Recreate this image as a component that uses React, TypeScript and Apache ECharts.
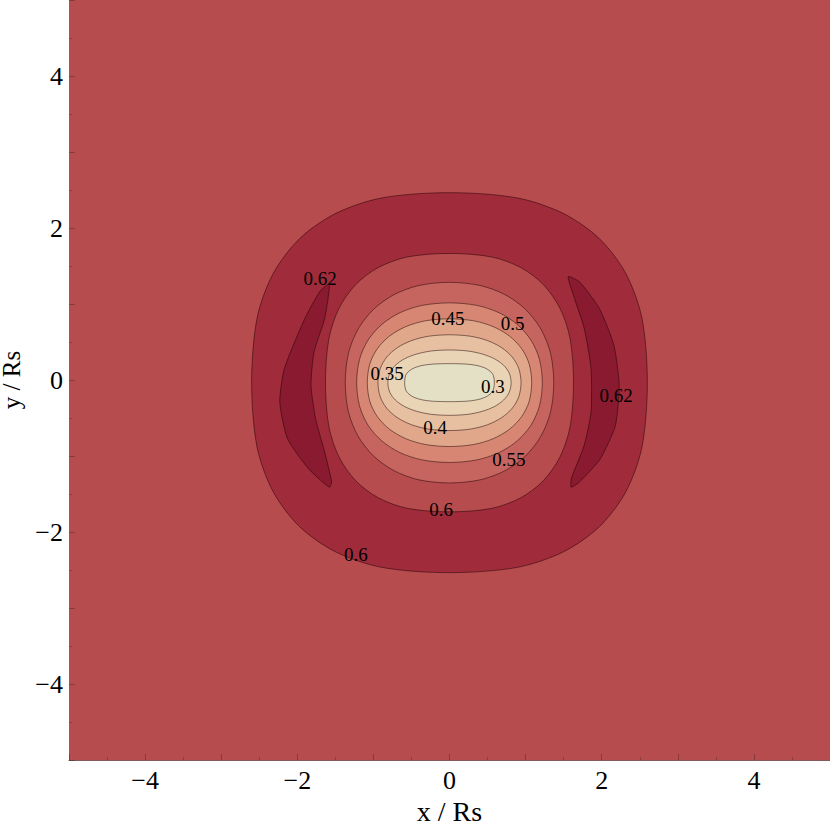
import React, { useEffect, useRef } from "react";
import * as echarts from "echarts";

// ---- axis ticks ----
const X_TICKS = [-4, -2, 0, 2, 4];
const Y_TICKS = [-4, -2, 0, 2, 4];
const X_NAME = "x / Rs";
const Y_NAME = "y / Rs";

// ---- contour outlines: upper-right quadrant, from (a,0) round to (0,b), in Rs units ----
const CENTER_Y = -0.035;
const Q_060_OUTER = [[2.6, 0], [2.529, 0.848], [2.317, 1.436], [1.97, 1.895], [1.493, 2.228], [0.882, 2.432], [0, 2.5]];
const Q_060_INNER = [[1.63, 0], [1.585, 0.577], [1.453, 0.976], [1.235, 1.288], [0.936, 1.515], [0.553, 1.654], [0, 1.7]];
const Q_055 = [[1.37, 0], [1.328, 0.386], [1.202, 0.703], [1.0, 0.963], [0.73, 1.158], [0.401, 1.279], [0, 1.32]];
const Q_050 = [[1.22, 0], [1.182, 0.307], [1.071, 0.559], [0.89, 0.766], [0.65, 0.921], [0.357, 1.017], [0, 1.05]];
const Q_045 = [[1.08, 0], [1.047, 0.246], [0.948, 0.447], [0.788, 0.613], [0.575, 0.737], [0.316, 0.814], [0, 0.84]];
const Q_040 = [[0.94, 0], [0.911, 0.184], [0.825, 0.336], [0.686, 0.46], [0.501, 0.553], [0.275, 0.611], [0, 0.63]];
const Q_035 = [[0.81, 0], [0.785, 0.126], [0.711, 0.229], [0.591, 0.314], [0.431, 0.377], [0.237, 0.417], [0, 0.43]];
const Q_030 = [[0.59, 0], [0.576, 0.095], [0.532, 0.152], [0.461, 0.195], [0.36, 0.226], [0.225, 0.244], [0, 0.25]];

// 0.62 crescents (closed outlines)
const CRESCENT_RIGHT = [
  [1.56, 1.36], [1.71, 1.29], [1.97, 0.94], [2.16, 0.46], [2.23, -0.07], [2.18, -0.6], [1.98, -1.04], [1.71, -1.34],
  [1.6, -1.41], [1.6, -1.3], [1.77, -0.86], [1.86, -0.42], [1.86, 0.15], [1.77, 0.68], [1.63, 1.11],
];
const CRESCENT_LEFT = [
  [-1.58, 1.26], [-1.7, 1.17], [-1.9, 0.81], [-2.17, 0.15], [-2.23, -0.29], [-2.13, -0.77], [-1.85, -1.17],
  [-1.58, -1.41], [-1.55, -1.34], [-1.64, -0.95], [-1.76, -0.51], [-1.82, -0.07], [-1.78, 0.37], [-1.64, 0.81],
];

// ---- contour labels ----
const LABEL_TEXT = ["0.62", "0.62", "0.45", "0.5", "0.35", "0.3", "0.4", "0.55", "0.6", "0.6"];
const LABEL_X = [-1.7, 2.19, -0.02, 0.83, -0.82, 0.57, -0.19, 0.78, -0.11, -1.23];
const LABEL_Y = [1.33, -0.21, 0.81, 0.74, 0.09, -0.08, -0.63, -1.05, -1.71, -2.3];

// ---- colours ----
const BG = "#b74c4f";
const C_BAND_060_062 = "#a02b3b";
const C_ABOVE_062 = "#8a1a2f";
const C_050_055 = "#c6655f";
const C_045_050 = "#d68672";
const C_040_045 = "#e1a78b";
const C_035_040 = "#e7c0a2";
const C_030_035 = "#e9d4b6";
const C_BELOW_030 = "#e4e0c5";

function fullLoop(q: number[][]): number[][] {
  const pts: number[][] = [];
  q.forEach(([x, y]) => pts.push([x, y + CENTER_Y]));
  q.slice().reverse().slice(1).forEach(([x, y]) => pts.push([-x, y + CENTER_Y]));
  q.slice(1).forEach(([x, y]) => pts.push([-x, -y + CENTER_Y]));
  q.slice().reverse().slice(1, -1).forEach(([x, y]) => pts.push([x, -y + CENTER_Y]));
  return pts;
}

const SHAPES = [
  { pts: fullLoop(Q_060_OUTER), fill: C_BAND_060_062, smooth: 0.3 },
  { pts: CRESCENT_RIGHT, fill: C_ABOVE_062, smooth: 0.2 },
  { pts: CRESCENT_LEFT, fill: C_ABOVE_062, smooth: 0.2 },
  { pts: fullLoop(Q_060_INNER), fill: BG, smooth: 0.3 },
  { pts: fullLoop(Q_055), fill: C_050_055, smooth: 0.3 },
  { pts: fullLoop(Q_050), fill: C_045_050, smooth: 0.3 },
  { pts: fullLoop(Q_045), fill: C_040_045, smooth: 0.3 },
  { pts: fullLoop(Q_040), fill: C_035_040, smooth: 0.3 },
  { pts: fullLoop(Q_035), fill: C_030_035, smooth: 0.3 },
  { pts: fullLoop(Q_030), fill: C_BELOW_030, smooth: 0.3 },
];

const SERIF = "'Liberation Serif', 'DejaVu Serif', serif";
const fmt = (v: number) => (v < 0 ? "\u2212" + Math.abs(v) : String(v));

export default function App() {
  const ref = useRef<HTMLDivElement>(null);
  useEffect(() => {
    if (!ref.current) return;
    const chart = echarts.init(ref.current, null, { renderer: "svg" });
    const axisCommon = (
      ticks: number[],
      name: string,
      margin: number,
      nameGap: number,
      nameSize: number,
      showLine: boolean
    ) => ({
      type: "value",
      min: -5,
      max: 5,
      interval: 1,
      name,
      nameLocation: "middle",
      nameGap,
      nameTextStyle: { fontFamily: SERIF, fontSize: nameSize, color: "#000" },
      axisLine: { show: showLine, onZero: false, lineStyle: { color: "rgba(80,20,20,0.7)", width: 1 } },
      axisTick: { show: true, inside: true, length: 6, lineStyle: { color: "rgba(0,0,0,0.25)" } },
      minorTick: { show: true, splitNumber: 2, length: 3, lineStyle: { color: "rgba(0,0,0,0.2)" } },
      splitLine: { show: false },
      axisLabel: {
        fontFamily: SERIF,
        fontSize: 26,
        color: "#000",
        margin,
        formatter: (v: number) => (ticks.includes(v) ? fmt(v) : ""),
      },
    });
    chart.setOption({
      animation: false,
      backgroundColor: "#fff",
      grid: {
        left: 69,
        right: 0,
        top: 0,
        bottom: 66,
        show: true,
        backgroundColor: BG,
        borderWidth: 0,
        outerBoundsMode: "none",
        containLabel: false,
      },
      xAxis: axisCommon(X_TICKS, X_NAME, 7, 36, 28, true),
      yAxis: axisCommon(Y_TICKS, Y_NAME, 6, 33, 25, false),
      series: [
        {
          type: "custom",
          clip: true,
          silent: true,
          data: SHAPES.map((_, i) => [i, 0]),
          renderItem: (params: any, api: any) => {
            const s = SHAPES[params.dataIndex];
            return {
              type: "polygon",
              shape: { points: s.pts.map((p) => api.coord(p)), smooth: s.smooth },
              style: { fill: s.fill, stroke: "rgba(30,0,0,0.5)", lineWidth: 1 },
            };
          },
        },
        {
          type: "custom",
          clip: true,
          silent: true,
          data: LABEL_TEXT.map((_, i) => [LABEL_X[i], LABEL_Y[i]]),
          renderItem: (params: any, api: any) => {
            const i = params.dataIndex;
            const [px, py] = api.coord([LABEL_X[i], LABEL_Y[i]]);
            return {
              type: "text",
              x: px,
              y: py,
              style: {
                text: LABEL_TEXT[i],
                fill: "#000",
                fontFamily: SERIF,
                fontSize: 19,
                align: "center",
                verticalAlign: "middle",
              },
            };
          },
        },
      ],
    });
    return () => chart.dispose();
  }, []);
  return (
    <div
      ref={ref}
      style={{ position: "fixed", left: 0, top: 0, width: 830, height: 826, background: "#fff" }}
    />
  );
}
